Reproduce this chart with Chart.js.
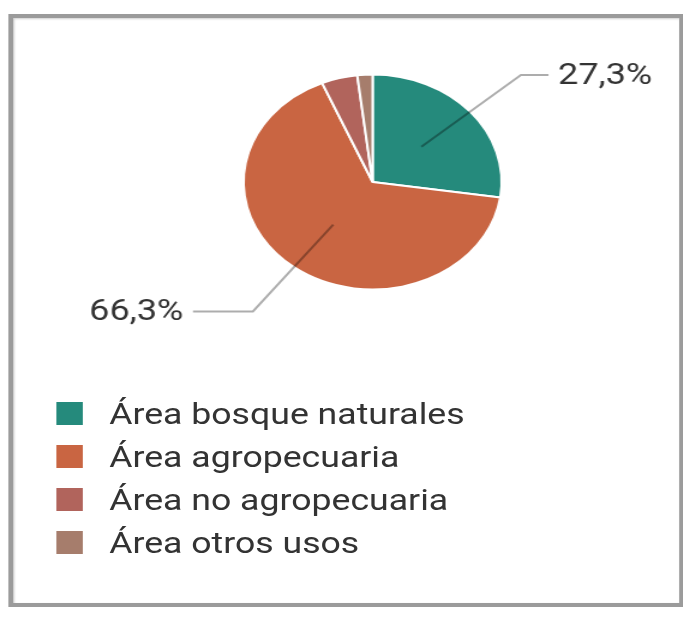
<!DOCTYPE html>
<html>
<head>
<meta charset="utf-8">
<script src="https://cdn.jsdelivr.net/npm/chart.js@4/dist/chart.umd.min.js"></script>
<style>
  html, body { margin: 0; padding: 0; background: #fff; overflow: hidden; }
  #stage {
    position: relative; width: 569px; height: 618px;
    transform: scaleX(1.2); transform-origin: 0 0;
    font-family: Roboto, "Noto Sans", sans-serif;
  }
  #frame {
    position: absolute; left: 7px; top: 14px; width: 563px; height: 593px;
    box-sizing: border-box; border: 4px solid #9b9b9b;
    box-shadow: inset 1px 1px 2px #cfcfcf;
  }
  #pie { position: absolute; left: 0; top: 0; }
  #legend { position: absolute; left: 47px; top: 392px; margin: 0; padding: 0; list-style: none; }
  #legend li { display: flex; align-items: center; height: 43px; color: #333; font-size: 29.7px; }
  #legend span.box { display: inline-block; width: 22px; height: 23px; margin-right: 22px; }
</style>
</head>
<body>
<div id="stage">
  <div id="frame"></div>
  <canvas id="pie" width="569" height="370"></canvas>
  <ul id="legend"></ul>
</div>
<script>
var labels = ['Área bosque naturales', 'Área agropecuaria', 'Área no agropecuaria', 'Área otros usos'];
var values = [27.3, 66.3, 4.5, 1.9];
var colors = ['#258a7c', '#c96542', '#b1645c', '#a67d6c'];
var showLabel = [true, true, false, false];

var leaderLines = {
  id: 'leaderLines',
  afterDatasetsDraw: function(chart, args, opts) {
    var ctx = chart.ctx;
    var meta = chart.getDatasetMeta(0);
    meta.data.forEach(function(arc, i) {
      if (!opts.show[i]) return;
      var p = arc.getProps(['x', 'y', 'startAngle', 'endAngle', 'outerRadius'], true);
      var mid = (p.startAngle + p.endAngle) / 2;
      var c = Math.cos(mid), s = Math.sin(mid);
      var r = p.outerRadius;
      var x0 = p.x + c * r * 0.5, y0 = p.y + s * r * 0.5;
      var x1 = p.x + c * r * 1.52, y1 = p.y + s * r * 1.52;
      var dir = c >= 0 ? 1 : -1;
      var x2 = x1 + dir * opts.tail[i];
      ctx.save();
      ctx.strokeStyle = 'rgba(0,0,0,0.32)';
      ctx.lineWidth = 2;
      ctx.beginPath();
      ctx.moveTo(x0, y0);
      ctx.lineTo(x1, y1);
      ctx.lineTo(x2, y1);
      ctx.stroke();
      ctx.fillStyle = '#333';
      ctx.font = '30px Roboto';
      ctx.textBaseline = 'middle';
      ctx.textAlign = dir > 0 ? 'left' : 'right';
      ctx.fillText(values[i].toFixed(1).replace('.', ',') + '%', x2 + dir * 8, y1 + 1);
      ctx.restore();
    });
  }
};

var ctx = document.getElementById('pie').getContext('2d');
new Chart(ctx, {
  type: 'pie',
  data: {
    labels: labels,
    datasets: [{
      data: values,
      backgroundColor: colors,
      borderColor: '#fff',
      borderWidth: 2
    }]
  },
  options: {
    responsive: false,
    animation: false,
    events: [],
    layout: { padding: { top: 73, bottom: 79, left: 202, right: 150 } },
    plugins: {
      legend: { display: false },
      tooltip: { enabled: false },
      leaderLines: { show: showLabel, tail: [23, 50] }
    }
  },
  plugins: [leaderLines]
});

var ul = document.getElementById('legend');
labels.forEach(function(l, i) {
  var li = document.createElement('li');
  var box = document.createElement('span');
  box.className = 'box';
  box.style.background = colors[i];
  li.appendChild(box);
  li.appendChild(document.createTextNode(l));
  ul.appendChild(li);
});
</script>
</body>
</html>
